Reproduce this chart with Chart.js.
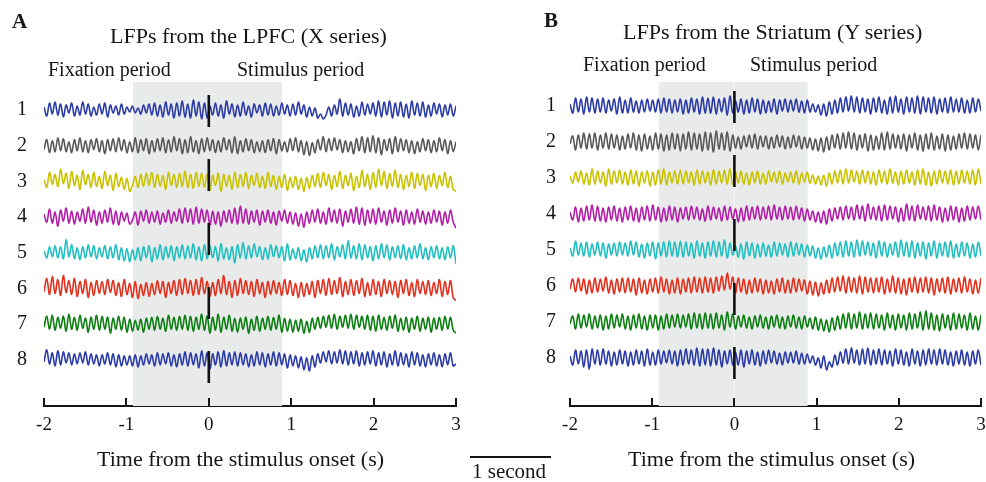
<!DOCTYPE html>
<html><head><meta charset="utf-8">
<script src="https://cdn.jsdelivr.net/npm/chart.js@4.4.0/dist/chart.umd.min.js"></script>
<style>
html,body{margin:0;padding:0;background:#fff;}
#wrap{position:relative;width:986px;height:482px;overflow:hidden;font-family:'Liberation Serif','Times New Roman',serif;color:#161616;}
canvas{position:absolute;top:0;}
.t{position:absolute;line-height:1;white-space:nowrap;}
</style></head><body>
<div id="wrap">
<canvas id="chartA" width="493" height="482" style="left:0"></canvas>
<canvas id="chartB" width="493" height="482" style="left:493px"></canvas>
<div class="t" style="left:12px;top:11px;font-size:21px;font-weight:bold">A</div>
<div class="t" style="left:110px;top:25px;font-size:22px">LFPs from the LPFC (X series)</div>
<div class="t" style="left:48px;top:59px;font-size:20px">Fixation period</div>
<div class="t" style="left:237px;top:59px;font-size:20px">Stimulus period</div>
<div class="t" style="left:97px;top:448px;font-size:22px">Time from the stimulus onset (s)</div>
<div class="t" style="left:544px;top:10px;font-size:21px;font-weight:bold">B</div>
<div class="t" style="left:623px;top:21px;font-size:22px">LFPs from the Striatum (Y series)</div>
<div class="t" style="left:583px;top:54px;font-size:20px">Fixation period</div>
<div class="t" style="left:750px;top:54px;font-size:20px">Stimulus period</div>
<div class="t" style="left:628px;top:448px;font-size:22px">Time from the stimulus onset (s)</div>
<div style="position:absolute;left:470px;top:456px;width:81px;border-top:2px solid #161616"></div>
<div class="t" style="left:472px;top:461px;font-size:21px">1 second</div>
</div>
<script>
// ---- data ----
const timeStart = -2, timeEnd = 3, nSamples = 150;
const xTickValues = [-2, -1, 0, 1, 2, 3];
const xTickLabels = ['-2', '-1', '0', '1', '2', '3'];
const rowLabels = ['1', '2', '3', '4', '5', '6', '7', '8'];
const fixationStimWindow = [-0.92, 0.89];
const onsetTime = 0;
const traceColors = ['#2c3ca6', '#585858', '#c9c200', '#b21fa8', '#23bfc0', '#e2321f', '#0d7e12', '#2c3ca6'];

// LFPs from the LPFC (X series), rows 1..8
const lpfc1 = [3,-6,7,-4,8,-5,6,-7,5,-3, 7,-6,4,-5,8,-4,6,-6,3,-5, 6,-4,7,-7,5,-3,4,-5,6,-4, 3,-2,4,-3,2,-4,5,-3,6,-5, 7,-6,5,-7,8,-5,6,-8,7,-6, 9,-7,6,-8,10,-6,8,-9,7,-8, 4,-5,7,-6,5,-8,9,-4,6,-7, 5,-6,8,-5,4,-7,6,-3,5,-6, 7,-5,6,-6,4,-5,7,-4,5,-6, 6,-5,8,-4,5,-7,3,-6,2,-8, -4,-9,-5,3,-6,5,-4,11,-6,7, -5,6,-7,4,-6,8,-5,6,-4,7, -6,9,-7,8,-5,9,-8,7,-6,8, -7,6,-8,9,-5,7,-6,8,-7,5, -6,7,-4,6,-7,5,-5,6,-6,4];
const lpfc2 = [-4,6,-7,5,-6,8,-5,7,-6,4, -7,6,-5,8,-6,5,-7,6,-4,7, -6,5,-8,6,-5,7,-6,8,-5,6, -7,4,-6,8,-7,6,-5,7,-8,5, -6,7,-5,8,-7,6,-6,9,-5,7, -8,6,-7,9,-6,5,-8,7,-6,8, -5,6,-7,5,-6,8,-4,6,-7,9, -8,5,-6,7,-5,6,-7,4,-6,5, -7,6,-5,7,-8,6,-5,4,-6,7, -5,8,-6,5,-9,4,-10,3,-7,6, -4,9,-6,7,-5,8,-4,6,-7,5, -6,4,-8,7,-5,9,-7,8,-6,10, -7,8,-9,6,-5,7,-8,9,-6,7, -5,6,-7,5,-8,4,-6,7,-5,6, -7,5,-6,8,-5,6,-8,5,-6,4];
const lpfc3 = [2,-6,9,-3,7,-5,12,-2,8,-7, 10,-4,6,-8,11,-3,7,-6,9,-5, 5,-7,10,-4,6,-9,8,-5,4,-8, 3,-10,-4,5,-6,7,-5,8,-4,9, -6,7,-5,6,-8,9,-4,7,-6,8, -5,10,-6,7,-7,9,-5,8,-6,7, -9,6,-4,8,-10,7,-5,6,-8,9, -6,7,-5,9,-7,6,-4,8,-6,5, -7,9,-5,6,-8,5,-6,7,-9,4, -6,5,-8,3,-10,4,-7,6,-5,8, -6,9,-4,7,-8,6,-5,10,-7,6, -4,8,-9,5,-6,11,-5,7,-8,9, -6,12,-4,10,-7,8,-5,11,-6,7, -8,6,-5,9,-7,8,-4,7,-9,6, -5,8,-7,6,-4,9,-6,5,-8,-10];
const lpfc4 = [3,-5,8,-6,5,-9,7,-4,9,-6, 6,-7,5,-4,8,-6,10,-5,7,-8, 5,-6,7,-5,9,-7,6,-8,5,-4, 4,-7,-3,5,-8,6,-4,7,-6,5, -5,6,-7,4,-5,7,-6,5,-4,8, -6,9,-5,8,-7,10,-6,8,-5,7, -8,6,-7,5,-9,6,-5,7,-6,9, -7,11,-6,8,-7,6,-5,7,-8,6, -5,7,-6,5,-8,6,-4,7,-6,5, -7,4,-9,3,-10,5,-6,7,-5,8, -6,5,-7,9,-5,7,-6,8,-9,6, -5,8,-6,10,-7,9,-8,7,-6,8, -7,9,-5,6,-8,7,-6,9,-5,6, -8,7,-6,5,-7,8,-5,6,-7,5, -6,7,-5,6,-8,5,-6,7,-5,-11];
const lpfc5 = [2,-5,6,-4,7,-5,6,-6,13,-4, 8,-6,5,-7,6,-5,8,-4,7,-6, 5,-4,7,-6,6,-5,8,-7,5,-8, 4,-9,3,-7,5,-8,6,-5,7,-9, 5,-6,8,-7,6,-5,7,-8,6,-5, 8,-6,7,-5,9,-7,6,-8,8,-6, 7,-5,6,-8,9,-6,5,-7,6,-10, 8,-5,10,-6,7,-5,9,-4,6,-7, 5,-6,8,-4,7,-5,6,-8,9,-7, 4,-6,5,-8,3,-9,5,-6,7,-5, 8,-6,7,-5,9,-7,6,-4,8,-6, 12,-5,7,-6,9,-7,8,-5,6,-8, 7,-6,9,-5,8,-7,6,-5,7,-6, 8,-7,5,-6,7,-5,9,-6,5,-7, 6,-5,7,-6,5,-7,6,-5,7,-11];
const lpfc6 = [-3,10,-6,12,-5,9,-7,13,-4,8, -6,10,-8,7,-5,9,-9,6,-7,8, -5,7,-6,9,-4,8,-7,6,-8,9, -6,5,-9,7,-10,4,-7,6,-8,5, -6,8,-5,7,-9,6,-5,8,-7,9, -6,10,-5,8,-7,9,-6,11,-5,7, -8,6,-7,9,-5,13,-6,7,-9,8, -7,10,-5,8,-6,7,-8,9,-5,6, -9,7,-6,8,-5,6,-7,9,-6,8, -7,5,-9,6,-8,5,-6,7,-9,8, -5,9,-7,10,-6,8,-5,11,-8,7, -6,9,-7,8,-5,10,-8,6,-7,9, -6,7,-8,9,-5,8,-6,7,-9,8, -5,9,-7,6,-8,9,-5,7,-6,8, -7,6,-5,9,-8,7,-6,8,-9,-12];
const lpfc7 = [-3,8,-5,9,-6,7,-4,8,-7,10, -5,7,-6,9,-4,6,-8,7,-5,9, -6,8,-5,7,-9,6,-5,8,-6,7, -8,5,-7,4,-6,5,-8,6,-5,7, -6,8,-5,6,-7,9,-5,7,-6,8, -5,9,-6,8,-7,7,-5,10,-6,8, -9,7,-6,10,-8,7,-5,9,-7,6, -8,6,-5,7,-9,5,-6,8,-7,6, -5,8,-6,7,-5,9,-8,6,-7,5, -8,4,-7,5,-9,3,-8,6,-5,7, -4,8,-3,9,-4,10,-5,8,-3,9, -4,10,-5,9,-3,8,-5,9,-6,8, -7,9,-5,7,-6,8,-4,9,-7,6, -6,7,-8,6,-5,8,-7,6,-5,7, -8,6,-5,7,-6,8,-5,7,-6,-9];
const lpfc8 = [-2,10,-4,7,-6,9,-5,8,-3,7, -5,6,-4,7,-3,8,-5,6,-4,5, -6,5,-4,7,-5,6,-7,5,-6,4, -5,4,-6,5,-7,4,-5,6,-4,5, -6,7,-5,6,-4,7,-6,5,-7,6, -5,8,-6,7,-5,6,-8,9,-6,7, -9,6,-5,8,-7,9,-6,7,-5,8, -6,7,-5,6,-7,5,-6,8,-5,7, -7,6,-5,8,-6,7,-5,6,-8,5, -6,4,-8,3,-10,2,-11,4,-7,6, -3,8,-2,9,-4,8,-3,10,-4,9, -5,8,-4,9,-6,7,-5,8,-4,9, -6,7,-5,8,-7,6,-5,9,-6,7, -5,6,-7,8,-5,7,-6,5,-7,6, -5,7,-6,5,-7,6,-5,7,-6,-4];

// LFPs from the Striatum (Y series), rows 1..8
const str1 = [2,-7,8,-6,7,-8,9,-6,8,-7, 7,-6,8,-7,6,-5,7,-8,9,-7, 6,-7,8,-6,5,-7,6,-6,7,-5, 6,-6,7,-7,8,-6,7,-7,6,-6, 7,-8,6,-7,8,-6,7,-8,9,-7, 8,-7,9,-8,7,-6,8,-9,10,-7, 5,-6,7,-8,6,-7,8,-6,7,-8, 6,-7,5,-6,7,-8,6,-5,7,-6, 6,-5,7,-6,5,-7,6,-6,2,-6, 1,-9,2,-10,4,-8,6,-7,8,-6, 9,-5,10,-6,9,-7,8,-6,7,-8, 8,-6,9,-7,6,-8,9,-7,10,-6, 7,-8,9,-6,8,-7,10,-8,9,-6, 8,-7,9,-8,7,-6,8,-7,9,-6, 7,-6,8,-7,6,-7,8,-6,7,-5];
const str2 = [-2,6,-8,7,-6,9,-7,8,-6,9, -8,7,-6,9,-7,8,-6,7,-8,6, -7,8,-6,9,-8,7,-9,8,-7,6, -8,9,-7,8,-9,7,-8,9,-7,8, -9,8,-7,10,-8,9,-7,8,-9,10, -8,9,-10,11,-7,9,-8,10,-9,7, -6,5,-7,6,-5,7,-6,8,-7,6, -5,6,-7,5,-6,7,-5,6,-7,5, -6,7,-5,6,-7,5,-6,4,-8,3, -9,4,-10,5,-8,7,-6,8,-7,9, -6,10,-7,9,-8,7,-6,8,-9,7, -8,6,-7,9,-8,10,-7,8,-6,7, -7,8,-9,7,-6,9,-8,7,-9,8, -7,9,-8,6,-7,8,-9,7,-8,6, -7,8,-6,9,-7,8,-6,7,-8,7];
const str3 = [2,-5,6,-4,7,-6,5,-7,9,-6, 7,-5,6,-8,9,-6,7,-5,8,-6, 6,-7,8,-6,7,-8,6,-5,7,-8, 6,-7,8,-6,9,-7,6,-5,7,-6, 8,-6,7,-5,6,-7,8,-6,7,-5, 6,-7,8,-6,7,-5,8,-6,9,-7, 6,-5,7,-6,5,-7,6,-5,7,-6, 5,-6,7,-4,6,-5,7,-6,5,-4, 6,-5,7,-6,5,-4,6,-5,3,-6, 2,-7,3,-8,5,-6,7,-5,8,-6, 9,-5,8,-4,7,-6,8,-5,7,-6, 6,-7,8,-5,7,-6,9,-5,6,-7, 7,-6,8,-5,6,-7,8,-6,9,-7, 6,-8,7,-6,8,-5,7,-6,8,-7, 7,-6,8,-5,7,-6,8,-7,9,-6];
const str4 = [2,-6,7,-8,6,-7,8,-6,9,-7, 8,-7,6,-8,7,-6,8,-7,6,-8, 7,-6,8,-7,6,-8,7,-6,8,-7, 9,-6,7,-8,6,-7,8,-6,7,-8, 6,-5,7,-6,8,-5,7,-6,5,-7, 8,-6,7,-5,6,-7,8,-6,7,-5, 5,-8,6,-7,8,-6,7,-5,8,-6, 7,-5,8,-6,9,-5,7,-6,8,-5, 7,-6,8,-5,6,-7,5,-6,3,-8, 2,-9,3,-10,5,-7,6,-5,7,-6, 8,-5,7,-6,9,-5,8,-7,10,-5, 7,-6,8,-7,9,-6,8,-5,7,-8, 6,-7,10,-6,8,-7,9,-5,7,-6, 8,-7,9,-6,7,-8,6,-7,8,-6, 7,-8,6,-7,8,-6,7,-5,8,-6];
const str5 = [2,-6,9,-5,7,-6,8,-7,6,-5, 8,-6,7,-8,6,-5,7,-6,8,-5, 7,-6,9,-5,8,-7,6,-8,7,-6, 8,-9,7,-6,8,-7,9,-6,8,-7, 9,-7,8,-6,7,-8,9,-6,7,-8, 8,-6,9,-7,8,-6,10,-8,7,-5, 4,-7,6,-9,8,-6,7,-8,6,-7, 7,-6,5,-7,8,-6,7,-5,6,-7, 8,-6,7,-5,6,-7,5,-6,4,-8, 2,-9,3,-7,5,-8,7,-6,8,-7, 9,-6,8,-7,10,-6,9,-5,8,-6, 7,-8,9,-6,8,-7,6,-5,8,-7, 10,-6,8,-7,9,-8,7,-6,8,-9, 7,-6,9,-8,7,-6,8,-7,9,-8, 6,-7,8,-6,7,-8,6,-7,8,-6];
const str6 = [-3,7,-6,8,-5,7,-8,6,-7,8, -6,7,-5,9,-7,6,-8,7,-6,8, -7,8,-6,7,-9,8,-7,6,-8,7, -6,8,-7,9,-6,7,-8,6,-7,8, -8,7,-6,8,-7,9,-6,8,-7,9, -6,8,-7,9,-5,10,-4,13,-3,9, -7,8,-6,7,-8,6,-7,8,-6,7, -8,6,-7,5,-8,7,-6,8,-7,6, -7,8,-6,7,-5,6,-8,5,-9,4, -10,3,-8,6,-7,8,-6,9,-5,10, -7,9,-6,8,-7,10,-8,9,-6,8, -7,8,-6,9,-8,7,-6,10,-7,8, -8,7,-9,8,-6,9,-7,8,-6,9, -7,8,-9,7,-6,8,-7,9,-8,7, -6,8,-7,9,-6,7,-8,6,-7,8];
const str7 = [-2,6,-7,8,-6,7,-5,8,-7,6, -6,7,-8,6,-7,8,-6,7,-5,8, -7,6,-8,7,-6,8,-7,6,-8,7, -6,7,-8,6,-7,8,-6,7,-5,8, -6,7,-5,8,-7,9,-6,8,-7,9, -6,8,-7,9,-6,7,-8,10,-5,8, -7,6,-5,7,-6,5,-7,6,-5,7, -6,5,-7,6,-5,7,-6,5,-7,6, -5,7,-6,5,-7,6,-5,4,-7,5, -8,3,-9,2,-10,4,-8,6,-7,8, -6,9,-7,8,-6,10,-7,8,-6,9, -7,8,-6,7,-8,9,-6,7,-8,8, -6,7,-8,9,-7,8,-6,10,-8,11, -7,9,-8,7,-9,8,-6,7,-8,9, -7,8,-6,7,-8,9,-7,6,-8,7];
const str8 = [2,-7,8,-6,7,-9,8,-11,9,-6, 8,-7,9,-6,7,-8,6,-7,8,-6, 7,-8,6,-7,8,-6,7,-8,9,-7, 6,-7,8,-6,7,-5,8,-6,7,-8, 8,-7,9,-6,8,-7,10,-8,9,-7, 9,-8,10,-7,8,-9,7,-6,8,-7, 6,-7,8,-9,7,-6,8,-7,6,-8, 7,-6,8,-5,7,-6,5,-7,6,-5, 6,-5,7,-6,5,-6,4,-5,2,-7, 0,-10,2,-12,-4,-9,3,-7,6,-5, 9,-6,10,-5,8,-7,9,-6,10,-7, 8,-6,9,-7,8,-6,7,-8,9,-6, 8,-7,6,-8,9,-6,7,-8,8,-7, 9,-6,8,-7,9,-6,8,-7,6,-8, 7,-6,8,-7,6,-8,7,-6,8,-7];

const lpfcSeries = [lpfc1, lpfc2, lpfc3, lpfc4, lpfc5, lpfc6, lpfc7, lpfc8];
const striatumSeries = [str1, str2, str3, str4, str5, str6, str7, str8];

// ---- chart building ----
const times = Array.from({length: nSamples}, (_, i) => timeStart + (timeEnd - timeStart) * i / (nSamples - 1));
Chart.defaults.font.family = "'Liberation Serif', 'Times New Roman', serif";
Chart.defaults.color = '#161616';

const panelDecor = {
  id: 'panelDecor',
  beforeDatasetsDraw(chart, args, opts) {
    const {ctx, chartArea: a, scales: {x}} = chart;
    const x0 = x.getPixelForValue(opts.shade[0]);
    const x1 = x.getPixelForValue(opts.shade[1]);
    ctx.save();
    ctx.fillStyle = '#e9ebeb';
    ctx.fillRect(x0, a.top, x1 - x0, a.bottom - a.top);
    if (opts.split) {
      ctx.fillStyle = '#f7f8f8';
      ctx.fillRect(Math.round(x.getPixelForValue(onsetTime)) - 0.5, a.top, 1, a.bottom - a.top);
    }
    ctx.restore();
  },
  afterDraw(chart) {
    const {ctx, chartArea: a, scales: {x}} = chart;
    ctx.save();
    ctx.strokeStyle = '#161616';
    ctx.lineWidth = 2;
    x.ticks.forEach(t => {
      const px = Math.round(x.getPixelForValue(t.value));
      ctx.beginPath();
      ctx.moveTo(px, a.bottom);
      ctx.lineTo(px, a.bottom - 8);
      ctx.stroke();
    });
    ctx.restore();
  }
};

function buildPanel(canvasId, series, L) {
  const rowBase = k => L.rowTop - k * L.rowGap;
  const datasets = [{
    data: [{x: onsetTime, y: L.markTop}, {x: onsetTime, y: L.markBottom}],
    borderColor: '#111', borderWidth: 2.6, borderDash: [32, 32], pointRadius: 0, tension: 0, order: -1
  }];
  series.forEach((vals, k) => {
    datasets.push({
      data: vals.map((v, i) => ({x: times[i], y: rowBase(k) + v})),
      borderColor: traceColors[k], borderWidth: 1.6, pointRadius: 0, tension: 0.35
    });
  });
  return new Chart(document.getElementById(canvasId), {
    type: 'line',
    data: {datasets},
    plugins: [panelDecor],
    options: {
      responsive: false, animation: false, devicePixelRatio: 1,
      layout: {padding: {top: 82, right: L.padRight, bottom: 0, left: 0}},
      plugins: {legend: {display: false}, tooltip: {enabled: false}, panelDecor: {shade: fixationStimWindow, split: L.split}},
      scales: {
        x: {
          type: 'linear', min: timeStart, max: timeEnd,
          afterBuildTicks: s => { s.ticks = xTickValues.map(v => ({value: v})); },
          afterFit: s => { s.height = 76; s.paddingLeft = 0; s.paddingRight = 0; },
          ticks: {callback: (v, i) => xTickLabels[i], font: {size: 19}, padding: 8, maxRotation: 0, autoSkip: false},
          grid: {display: false, drawTicks: false},
          border: {display: true, color: '#161616', width: 2}
        },
        y: {
          type: 'linear', min: 0, max: 324,
          afterBuildTicks: s => { s.ticks = rowLabels.map((_, k) => ({value: rowBase(k)})); },
          afterFit: s => { s.width = L.leftWidth; },
          ticks: {callback: (v, i) => rowLabels[i], font: {size: 20}, padding: L.labelPad, autoSkip: false},
          grid: {display: false, drawTicks: false},
          border: {display: false}
        }
      }
    }
  });
}

buildPanel('chartA', lpfcSeries, {rowTop: 296, rowGap: 35.7, padRight: 37, leftWidth: 44, labelPad: 17, markTop: 311, markBottom: 23, split: false});
buildPanel('chartB', striatumSeries, {rowTop: 300, rowGap: 36, padRight: 5, leftWidth: 77, labelPad: 14, markTop: 315, markBottom: 27, split: true});
</script>
</body></html>
